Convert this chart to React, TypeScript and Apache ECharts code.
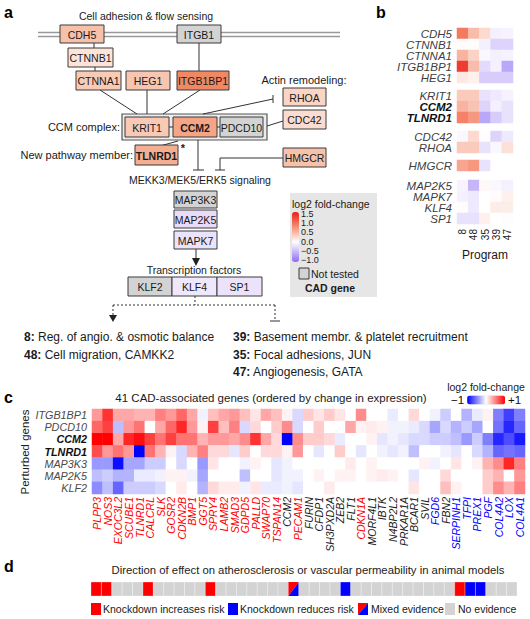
import React, { useEffect, useRef } from "react";
import * as echarts from "echarts";

const FONT = '"Liberation Sans", Arial, Helvetica, sans-serif';

// ---------------- Panel b data ----------------
const programs = ["8", "48", "35", "39", "47"];
const bGenes1 = ["CDH5", "CTNNB1", "CTNNA1", "ITGB1BP1", "HEG1"];
const bGenes2 = ["KRIT1", "CCM2", "TLNRD1"];
const bGenes3 = ["CDC42", "RHOA"];
const bGenes4 = ["HMGCR"];
const bGenes5 = ["MAP2K5", "MAPK7", "KLF4", "SP1"];
const bValues1 = [
  [0.9, 0.45, 0.25, -0.1, -0.08],
  [0.02, 0.02, -0.1, -0.3, -0.3],
  [0.5, 0.3, -0.05, -0.1, -0.08],
  [1.3, 0.45, -0.25, -0.1, -0.6],
  [0.15, 0.1, -0.35, -0.35, -0.35],
];
const bValues2 = [
  [0.35, 0.35, -0.2, -0.15, -0.08],
  [0.5, 0.4, -0.3, -0.1, -0.2],
  [0.85, 0.7, -0.6, -0.35, -0.2],
];
const bValues3 = [
  [-0.05, 0.25, -0.02, -0.3, -0.15],
  [0.35, 0.35, -0.2, -0.05, 0.2],
];
const bValues4 = [[0.6, 0.7, -0.2, 0, 0]];
const bValues5 = [
  [-0.08, -0.5, 0.05, -0.05, -0.1],
  [-0.1, -0.15, 0, 0.02, 0.1],
  [0.02, -0.15, 0, 0.12, 0.12],
  [-0.2, -0.2, 0.1, 0, -0.02],
];
const legendTicks = [1.5, 1.0, 0.5, 0.0, -0.5, -1.0];

// ---------------- Panel c data ----------------
const cGenes = [
  "PLPP3", "NOS3", "EXOC3L2", "SCUBE1", "TLNRD1", "CALCRL", "SLK", "GOSR2", "CDKN2B", "BMP1",
  "GGT5", "SPRY4", "LAMB2", "SMAD3", "GDPD5", "PALLD", "SWAP70", "TSPAN14", "CCM2", "PECAM1",
  "FURIN", "CFDP1", "SH3PXD2A", "ZEB2", "FLT1", "CDKN1A", "MORF4L1", "IBTK", "N4BP2L2", "PRKAR1A",
  "BCAR1", "SVIL", "FGD6", "FBN2", "SERPINH1", "TFPI", "PREX1", "PGF", "COL4A2", "LOX",
  "COL4A1",
];
// r = red label, k = black label, b = blue label
const cLabelClass = [
  "r", "r", "r", "r", "r", "r", "r", "r", "r", "r",
  "r", "r", "r", "r", "r", "r", "r", "r", "k", "r",
  "k", "k", "k", "k", "k", "r", "k", "k", "k", "k",
  "k", "k", "b", "k", "b", "b", "b", "b", "b", "b",
  "b",
];
const cRows = ["ITGB1BP1", "PDCD10", "CCM2", "TLNRD1", "MAP3K3", "MAP2K5", "KLF2"];
const cITGB1BP1 = [
  0.4, 0.8, 0.35, 0.35, 0.3, 0.3, 0.5, 0.4, 0.6, 0.35,
  -0.05, 0.25, 0.35, 0.4, 0.25, 0.1, 0.35, 0.25, 0.05, -0.15,
  0.2, 0.1, 0.2, 0.1, 0, 0.45, 0, 0, -0.08, 0,
  0.15, 0, -0.05, -0.2, 0, -0.3, -0.08, 0.05, -0.5, -0.75,
  -0.5,
];
const cPDCD10 = [
  0.6, 0.75, -0.25, 0.4, 0.55, 0, 0.35, 0.6, 0.85, 0.4,
  0.05, 0.75, 0.25, 0.5, -0.15, 0.15, 0, 0.2, 0.45, -0.15,
  0, 0.2, 0, 0, 0.35, 0.05, 0.08, 0.05, -0.05, -0.05,
  -0.08, -0.15, -0.35, -0.15, -0.3, -0.2, -0.35, 0, -0.55, -0.85,
  -0.6,
];
const cCCM2 = [
  1.0, 1.0, 0.35, 0.85, 0.95, 0.75, 0.55, 0.75, 0.55, 0.55,
  0.3, 0.4, 0.4, 0.35, 0.45, 0.8, 0.35, 0.15, -1.0, 0.45,
  0.2, 0.2, 0.15, -0.08, 0, 0, 0.05, -0.1, -0.05, -0.1,
  -0.15, -0.15, -0.2, -0.2, -0.25, -0.4, -0.2, -0.5, -0.85, -0.7,
  -0.9,
];
const cTLNRD1 = [
  0.7, 0.4, 0.55, 0.4, -1.0, 0.55, 0.3, 0.05, -0.15, 0.3,
  0.5, 0.15, 0.15, -0.1, 0.2, 0, 0.15, 0.15, 0.05, 0.4,
  0, -0.1, 0, 0.2, 0, -0.1, 0, -0.05, -0.1, -0.05,
  -0.25, 0, 0, -0.05, -0.1, 0, -0.15, -0.3, -0.6, -0.55,
  -0.6,
];
const cMAP3K3 = [
  -0.4, -0.4, -0.95, -0.35, -0.35, -0.2, -0.2, 0, -0.15, 0,
  -0.4, 0.1, 0, 0, -0.05, 0.05, 0, -0.1, -0.05, 0,
  0, 0, 0, 0, 0.08, 0, 0.05, 0, 0, 0,
  0, 0.05, -0.05, 0, 0.1, 0, 0.05, 0.3, 0.45, 0.85,
  0.5,
];
const cMAP2K5 = [
  -0.25, -0.2, -0.3, -0.3, -0.08, -0.08, -0.05, 0.05, 0.05, -0.05,
  -0.35, 0, 0, 0, -0.25, 0, 0, -0.1, -0.05, -0.05,
  0, 0.05, 0, 0.05, 0.05, 0, 0.05, 0.08, 0.05, 0,
  -0.1, 0, 0, 0.15, 0, 0, 0, 0.2, 0.3, 0,
  0.4,
];
const cKLF2 = [
  -0.45, -0.25, -0.6, -0.2, -0.2, -0.2, -0.15, 0, 0.08, 0,
  -0.3, 0.15, 0.08, 0.08, -0.05, 0.1, -0.08, -0.08, -0.05, -0.1,
  0, 0, 0.08, 0, 0, 0, 0, 0, 0, 0,
  0.1, 0, 0, 0.25, 0.05, 0, 0, 0.2, 0.45, 0.3,
  0.5,
];
const cValues = [cITGB1BP1, cPDCD10, cCCM2, cTLNRD1, cMAP3K3, cMAP2K5, cKLF2];

// ---------------- Panel d data ----------------
// inc = knockdown increases risk, dec = knockdown reduces risk, mix = mixed, none = no evidence
const dEffect = [
  "inc", "inc", "none", "none", "none", "inc", "none", "none", "none", "none",
  "none", "inc", "none", "none", "none", "none", "none", "none", "none", "mix",
  "none", "none", "none", "none", "dec", "none", "none", "none", "none", "none",
  "none", "none", "none", "none", "none", "inc", "dec", "dec", "none", "none",
  "none",
];
const dKinds = ["inc", "dec", "mix", "none"];

// ---------------- styles ----------------
const RED = "#ff0000";
const BLUE = "#0000ff";
const GRAY = "#d3d3d3";
const bColors = ["#8c6cf2", "#c6b6f8", "#ffffff", "#f8b4a0", "#f26b50", "#ea1c1c"];
const boldGenes = new Set(["CCM2", "TLNRD1"]);

type Box = { t: string; x: number; y: number; w: number; h: number; fill: string; bold?: boolean };
const diagramBoxes: Box[] = [
  { t: "CDH5", x: 60, y: 25, w: 44, h: 18, fill: "#f7c1a9" },
  { t: "ITGB1", x: 177, y: 25, w: 44, h: 18, fill: GRAY },
  { t: "CTNNB1", x: 68, y: 48, w: 45, h: 19, fill: "#fde4d9" },
  { t: "CTNNA1", x: 76, y: 71, w: 45, h: 19, fill: "#f9cbb7" },
  { t: "HEG1", x: 126, y: 71, w: 44, h: 19, fill: "#f8c6b0" },
  { t: "ITGB1BP1", x: 177, y: 71, w: 52, h: 19, fill: "#f08864" },
  { t: "RHOA", x: 283, y: 88, w: 43, h: 18, fill: "#f9d5c6" },
  { t: "CDC42", x: 283, y: 110, w: 43, h: 19, fill: "#fbdcd0" },
  { t: "KRIT1", x: 125, y: 117, w: 44, h: 20, fill: "#f8c9b4" },
  { t: "CCM2", x: 173, y: 117, w: 44, h: 20, fill: "#f5a586", bold: true },
  { t: "PDCD10", x: 220, y: 117, w: 43, h: 20, fill: GRAY },
  { t: "TLNRD1", x: 135, y: 145, w: 43, h: 20, fill: "#f4ae92", bold: true },
  { t: "HMGCR", x: 283, y: 148, w: 43, h: 19, fill: "#f7c2aa" },
  { t: "MAP3K3", x: 174, y: 191, w: 43, h: 17, fill: GRAY },
  { t: "MAP2K5", x: 174, y: 210, w: 43, h: 18, fill: "#e9dcfb" },
  { t: "MAPK7", x: 174, y: 231, w: 43, h: 18, fill: "#ebe2fb" },
  { t: "KLF2", x: 128, y: 277, w: 44, h: 19, fill: GRAY },
  { t: "KLF4", x: 172, y: 277, w: 45, h: 19, fill: "#efe7fc" },
  { t: "SP1", x: 217, y: 277, w: 45, h: 19, fill: "#ece3fb" },
];

function txt(text: string, x: number, y: number, o: any = {}) {
  const align = o.align || "center";
  const style: any = {
    text,
    fontSize: o.size || 10.5,
    fontFamily: FONT,
    fontWeight: o.bold ? "bold" : "normal",
    fontStyle: o.italic ? "italic" : "normal",
    fill: o.color || "#1a1a1a",
    align,
    textAlign: align,
    verticalAlign: "middle",
    textVerticalAlign: "middle",
  };
  if (o.rich) style.rich = o.rich;
  if (o.lineHeight) style.lineHeight = o.lineHeight;
  return { type: "text", x, y, rotation: o.rotation || 0, silent: true, z: 20, style };
}
function ln(x1: number, y1: number, x2: number, y2: number, o: any = {}) {
  return {
    type: "line",
    silent: true,
    z: 15,
    shape: { x1, y1, x2, y2 },
    style: { stroke: o.color || "#333", lineWidth: o.w || 1, lineDash: o.dash || null },
  };
}
function rect(x: number, y: number, w: number, h: number, fill: string, o: any = {}) {
  return {
    type: "rect",
    silent: true,
    z: o.z ?? 16,
    shape: { x, y, width: w, height: h },
    style: { fill, stroke: o.stroke === undefined ? "#3a3a3a" : o.stroke, lineWidth: o.lw ?? 1 },
  };
}
function poly(points: number[][], fill: string, z = 16) {
  return { type: "polygon", silent: true, z, shape: { points }, style: { fill } };
}

function buildGraphic() {
  const els: any[] = [];
  // panel letters
  els.push(txt("a", 4, 12, { size: 16, bold: true, align: "left", color: "#000" }));
  els.push(txt("b", 376, 12, { size: 16, bold: true, align: "left", color: "#000" }));
  els.push(txt("c", 4, 397, { size: 16, bold: true, align: "left", color: "#000" }));
  els.push(txt("d", 4, 566, { size: 16, bold: true, align: "left", color: "#000" }));

  // ---- panel a ----
  els.push(txt("Cell adhesion & flow sensing", 146, 16));
  els.push(ln(38, 32.5, 340, 32.5, { color: "#999", w: 1.3 }));
  els.push(ln(38, 36.5, 340, 36.5, { color: "#999", w: 1.3 }));
  els.push(ln(94, 43, 94, 48));
  els.push(ln(95, 67, 95, 71));
  els.push(ln(199, 43, 199, 71));
  els.push(ln(100, 90, 137, 114));
  els.push(ln(147, 90, 147, 114));
  els.push(ln(200, 90, 163, 114));
  els.push(ln(203, 114, 273, 99));
  els.push(ln(273, 95, 273, 103));
  els.push(ln(267, 126, 283, 121));
  els.push(rect(122, 114, 145, 26, "#ececec", { stroke: "#555", lw: 1.2, z: 14 }));
  els.push(ln(169, 127, 173, 127));
  els.push(ln(217, 127, 220, 127));
  els.push(ln(160, 146, 178, 141));
  els.push(txt("*", 183, 148, { size: 11, bold: true }));
  els.push(ln(198, 140, 198, 170));
  els.push(ln(193, 170, 204, 170));
  els.push({
    type: "polyline",
    silent: true,
    z: 15,
    shape: { points: [[283, 158], [220, 158], [220, 170]] },
    style: { stroke: "#333", lineWidth: 1, fill: null },
  });
  els.push(ln(215, 170, 225, 170));
  els.push(ln(196, 249, 196, 261));
  els.push(poly([[192, 258], [200, 258], [196, 266]], "#222"));
  const dash = [2, 2];
  els.push(ln(195, 296, 195, 305, { dash }));
  els.push(ln(113, 305, 275, 305, { dash }));
  els.push(ln(113, 305, 113, 318, { dash }));
  els.push(poly([[109, 315], [117, 315], [113, 322]], "#222"));
  els.push(ln(275, 305, 275, 320, { dash }));
  els.push(ln(270, 321, 280, 321));

  diagramBoxes.forEach((b) => {
    els.push(rect(b.x, b.y, b.w, b.h, b.fill));
    els.push(txt(b.t, b.x + b.w / 2, b.y + b.h / 2 + 0.5, { bold: b.bold }));
  });
  els.push(txt("Actin remodeling:", 304, 80, { size: 11 }));
  els.push(txt("CCM complex:", 120, 127, { align: "right", size: 11 }));
  els.push(txt("New pathway member:", 133, 155, { align: "right", size: 11 }));
  els.push(txt("MEKK3/MEK5/ERK5 signaling", 200, 180));
  els.push(txt("Transcription factors", 194, 270));

  const richB = { b: { fontWeight: "bold", fontSize: 12, fontFamily: FONT, fill: "#1a1a1a", color: "#1a1a1a" } };
  els.push(txt("{b|8:} Reg. of angio. & osmotic balance", 24, 337, { size: 12, align: "left", rich: richB }));
  els.push(txt("{b|48:} Cell migration, CAMKK2", 24, 355, { size: 12, align: "left", rich: richB }));
  els.push(txt("{b|39:} Basement membr. & platelet recruitment", 233, 337, { size: 12, align: "left", rich: richB }));
  els.push(txt("{b|35:} Focal adhesions, JUN", 233, 355, { size: 12, align: "left", rich: richB }));
  els.push(txt("{b|47:} Angiogenesis, GATA", 233, 372, { size: 12, align: "left", rich: richB }));

  // legend box (panel a / b colour scale)
  els.push(rect(290, 193, 87, 104, "#e6e6e6", { stroke: null, lw: 0, z: 1 }));
  els.push(txt("log2 fold-change", 292, 203.5, { align: "left", lineHeight: 10 }));
  legendTicks.forEach((v, i) => {
    const label = v.toFixed(1).replace("-", "\u2212");
    els.push(txt(label, 301, 214 + i * 9.2, { align: "left", size: 9, lineHeight: 9 }));
  });
  els.push(rect(299, 268, 10, 11, GRAY, { lw: 1 }));
  els.push(txt("Not tested", 311, 274, { align: "left" }));
  els.push(txt("CAD gene", 330, 288, { bold: true }));

  // ---- panel c ----
  els.push(txt("41 CAD-associated genes (ordered by change in expression)", 271, 398, { size: 11.5 }));
  els.push(txt("log2 fold-change", 486, 387, { size: 10.5 }));
  els.push(txt("Perturbed genes", 25, 452, { size: 11.5, rotation: Math.PI / 2 }));

  // ---- panel d ----
  els.push(txt("Direction of effect on atherosclerosis or vascular permeability in animal models", 308, 570, { size: 11.3 }));
  const ly = 603;
  els.push(rect(91, ly, 10, 12, RED, { stroke: null, lw: 0 }));
  els.push(txt("Knockdown increases risk", 103, ly + 6, { align: "left" }));
  els.push(rect(228, ly, 10, 12, BLUE, { stroke: null, lw: 0 }));
  els.push(txt("Knockdown reduces risk", 240, ly + 6, { align: "left" }));
  els.push(poly([[358, ly], [368, ly], [358, ly + 12]], RED));
  els.push(poly([[368, ly], [368, ly + 12], [358, ly + 12]], BLUE));
  els.push(txt("Mixed evidence", 371, ly + 6, { align: "left" }));
  els.push(rect(445, ly, 10, 12, GRAY, { stroke: null, lw: 0 }));
  els.push(txt("No evidence", 458, ly + 6, { align: "left" }));
  return els;
}

function geneLabel(size: number, color: string) {
  return {
    formatter: (v: string) => (boldGenes.has(v) ? `{b|${v}}` : `{n|${v}}`),
    rich: {
      n: { fontStyle: "italic", fontSize: size, fontFamily: FONT, color },
      b: { fontStyle: "italic", fontWeight: "bold", fontSize: size, fontFamily: FONT, color: "#111" },
    },
  };
}

function buildOption() {
  const bGroups = [
    { genes: bGenes1, values: bValues1, top: 28, height: 55 },
    { genes: bGenes2, values: bValues2, top: 90, height: 33 },
    { genes: bGenes3, values: bValues3, top: 131, height: 22 },
    { genes: bGenes4, values: bValues4, top: 160, height: 11 },
    { genes: bGenes5, values: bValues5, top: 180, height: 44 },
  ];
  const grid: any[] = [];
  const xAxis: any[] = [];
  const yAxis: any[] = [];
  const series: any[] = [];
  bGroups.forEach((g, i) => {
    grid.push({ left: 457, top: g.top, width: 56, height: g.height, outerBoundsMode: "none", containLabel: false });
    const last = i === bGroups.length - 1;
    xAxis.push({
      type: "category",
      gridIndex: i,
      data: programs,
      show: last,
      axisLine: { show: false },
      axisTick: { show: false },
      splitLine: { show: false },
      axisLabel: { rotate: 90, margin: 5, fontSize: 10, fontFamily: FONT, color: "#222", interval: 0 },
      name: last ? "Program" : "",
      nameLocation: "middle",
      nameGap: 25,
      nameTextStyle: { fontSize: 12, fontFamily: FONT, color: "#1a1a1a" },
    });
    yAxis.push({
      type: "category",
      gridIndex: i,
      data: g.genes,
      inverse: true,
      axisLine: { show: false },
      axisTick: { show: false },
      splitLine: { show: false },
      axisLabel: { margin: 5, interval: 0, ...geneLabel(11.5, "#404040") },
    });
    series.push({
      type: "heatmap",
      xAxisIndex: i,
      yAxisIndex: i,
      data: g.values.flatMap((row, r) => row.map((v, c) => [c, r, v])),
      emphasis: { disabled: true },
      itemStyle: { borderWidth: 0 },
    });
  });
  // panel c
  grid.push({ left: 92, top: 409, width: 433, height: 85, outerBoundsMode: "none", containLabel: false });
  xAxis.push({
    type: "category",
    gridIndex: 5,
    data: cGenes,
    axisLine: { show: false },
    axisTick: { show: false },
    splitLine: { show: false },
    axisLabel: {
      rotate: 90,
      margin: 3,
      interval: 0,
      fontSize: 10.5,
      fontStyle: "italic",
      fontFamily: FONT,
      color: (_v: string, idx: number) => {
        const k = cLabelClass[idx];
        return k === "r" ? RED : k === "b" ? BLUE : "#222";
      },
    },
  });
  yAxis.push({
    type: "category",
    gridIndex: 5,
    data: cRows,
    inverse: true,
    axisLine: { show: false },
    axisTick: { show: false },
    splitLine: { show: false },
    axisLabel: { margin: 5, interval: 0, ...geneLabel(10.8, "#4a4a4a") },
  });
  series.push({
    type: "heatmap",
    xAxisIndex: 5,
    yAxisIndex: 5,
    data: cValues.flatMap((row, r) => row.map((v, c) => [c, r, v])),
    emphasis: { disabled: true },
    itemStyle: { borderWidth: 0 },
  });
  // panel d
  grid.push({ left: 91, top: 582, width: 426, height: 14, outerBoundsMode: "none", containLabel: false });
  xAxis.push({ type: "category", gridIndex: 6, data: cGenes, show: false });
  yAxis.push({ type: "category", gridIndex: 6, data: ["effect"], show: false });
  const kindColor: Record<string, string> = { inc: RED, dec: BLUE, none: GRAY };
  series.push({
    type: "custom",
    xAxisIndex: 6,
    yAxisIndex: 6,
    data: dEffect.map((k, i) => [i, 0, dKinds.indexOf(k)]),
    encode: { x: 0, y: 1 },
    silent: true,
    renderItem: (_params: any, api: any) => {
      const c = api.coord([api.value(0), api.value(1)]);
      const s = api.size([1, 1]);
      const x0 = c[0] - s[0] / 2;
      const y0 = c[1] - s[1] / 2;
      const w = s[0];
      const h = s[1];
      const kind = dKinds[api.value(2)];
      if (kind === "mix") {
        return {
          type: "group",
          children: [
            { type: "polygon", shape: { points: [[x0, y0], [x0 + w, y0], [x0, y0 + h]] }, style: { fill: RED } },
            { type: "polygon", shape: { points: [[x0 + w, y0], [x0 + w, y0 + h], [x0, y0 + h]] }, style: { fill: BLUE } },
          ],
        };
      }
      return {
        type: "rect",
        shape: { x: x0, y: y0, width: w, height: h },
        style: { fill: kindColor[kind], stroke: "rgba(255,255,255,0.6)", lineWidth: 0.5 },
      };
    },
  });

  return {
    animation: false,
    backgroundColor: "#ffffff",
    textStyle: { fontFamily: FONT },
    tooltip: { show: false },
    grid,
    xAxis,
    yAxis,
    series,
    visualMap: [
      {
        type: "continuous",
        seriesIndex: [0, 1, 2, 3, 4],
        min: -1,
        max: 1.5,
        orient: "vertical",
        left: 292,
        top: 212,
        itemWidth: 7,
        itemHeight: 50,
        padding: 0,
        calculable: false,
        hoverLink: false,
        text: null,
        inRange: { color: bColors },
        z: 30,
      },
      {
        type: "continuous",
        seriesIndex: [5],
        min: -1,
        max: 1,
        orient: "horizontal",
        left: 451,
        top: 394,
        itemWidth: 9,
        itemHeight: 38,
        padding: 0,
        calculable: false,
        hoverLink: false,
        text: ["+1", "\u22121"],
        textGap: 3,
        textStyle: { fontSize: 11.5, fontFamily: FONT, color: "#111" },
        inRange: { color: [BLUE, "#ffffff", RED] },
        z: 30,
      },
    ],
    graphic: { elements: buildGraphic() },
  };
}

export default function App() {
  const ref = useRef<HTMLDivElement>(null);
  useEffect(() => {
    document.body.style.margin = "0";
    if (!ref.current) return;
    const chart = echarts.init(ref.current, undefined, { renderer: "svg" });
    chart.setOption(buildOption() as any);
    return () => chart.dispose();
  }, []);
  return (
    <div style={{ position: "fixed", left: 0, top: 0, width: 530, height: 619 }}>
      <div ref={ref} style={{ width: 530, height: 619, background: "#fff" }} />
    </div>
  );
}
